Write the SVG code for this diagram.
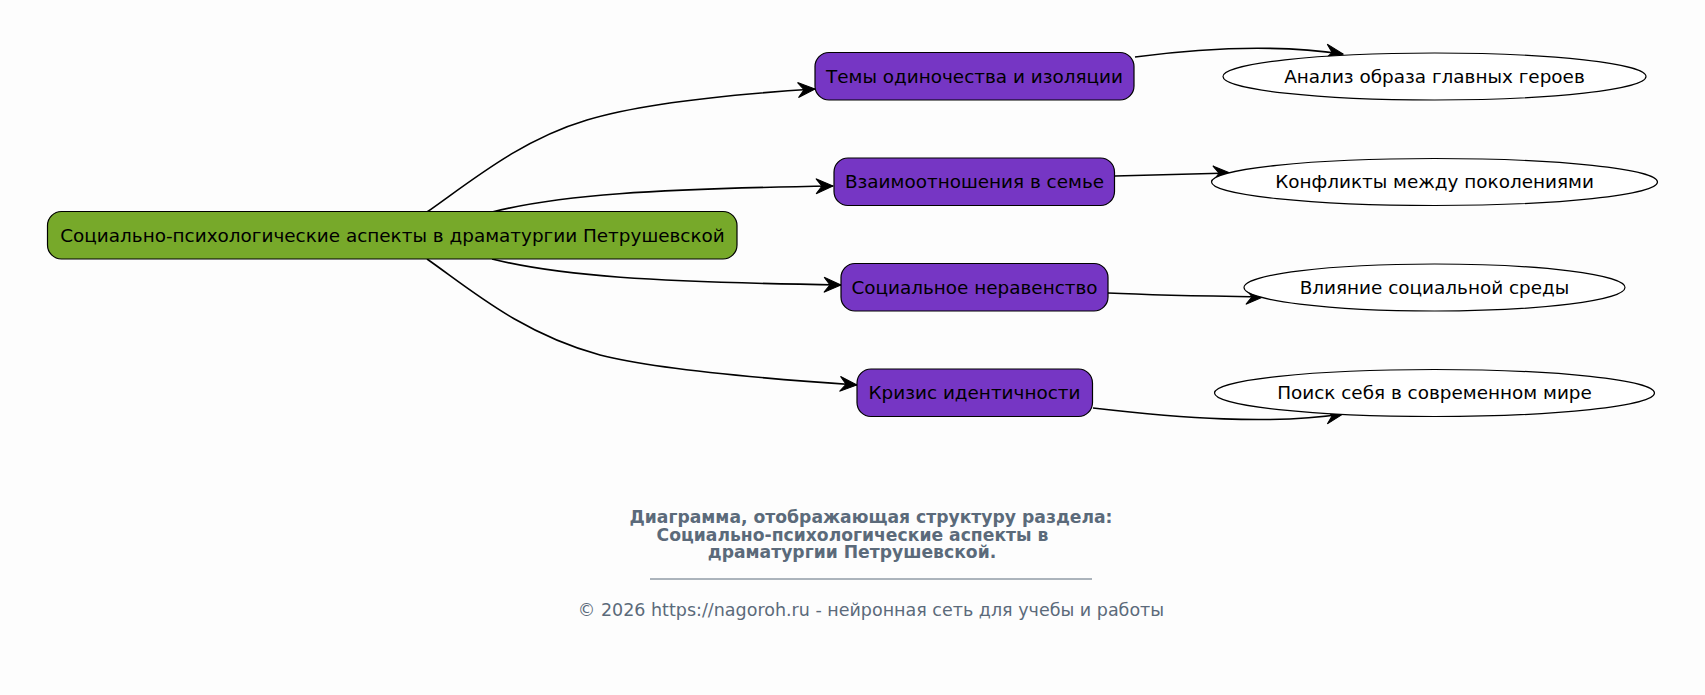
<svg xmlns="http://www.w3.org/2000/svg" width="1705" height="695" viewBox="0 0 1705 695">
<defs>
<style>
.node text{font-family:"DejaVu Sans",sans-serif;font-size:18.4px;fill:#000;text-anchor:middle}
.root{fill:#77a92a;stroke:#000;stroke-width:1.2}
.topic{fill:#7636c4;stroke:#000;stroke-width:1.2}
.leaf{fill:#ffffff;stroke:#000;stroke-width:1.2}
.edges path{fill:none;stroke:#000;stroke-width:1.6;marker-end:url(#vee)}
.cap{font-family:"DejaVu Sans",sans-serif;fill:#5b6a7a;text-anchor:middle}
</style>
<marker id="vee" markerUnits="userSpaceOnUse" orient="auto" refX="0" refY="0" markerWidth="40" markerHeight="40" viewBox="-20 -20 40 40" overflow="visible">
<path d="M0,0 L-17,-7.5 L-11,0 L-17,7.5 Z" fill="#000" stroke="#000" stroke-width="1"/>
</marker>
</defs>
<rect x="0" y="0" width="1705" height="695" fill="#fdfdfd"/>
<g id="connectors" class="edges">
<path d="M427,212 C470,182 520,140 587,120 C640,104 720,95 815,89"/>
<path d="M492,212 C560,195 650,189 833,186"/>
<path d="M492,259 C560,276 650,282 841,285"/>
<path d="M427,259 C470,289 520,333 600,355 C650,368 740,377 857,385"/>
<path d="M1135,57 C1180,51 1260,42 1343,54"/>
<path d="M1115,176 C1150,175 1190,174 1230,173"/>
<path d="M1108,293 C1150,295 1200,296 1263,297"/>
<path d="M1093,408 C1180,418 1270,425 1343,414"/>
</g>
<g id="root" class="node">
<rect class="root" x="47.5" y="211.5" width="689.5" height="47.5" rx="14"/>
<text x="392.5" y="241.5">Социально-психологические аспекты в драматургии Петрушевской</text>
</g>
<g id="topic1" class="node">
<rect class="topic" x="815" y="52.5" width="319" height="47.5" rx="14"/>
<text x="974.5" y="82.5">Темы одиночества и изоляции</text>
</g>
<g id="topic2" class="node">
<rect class="topic" x="834" y="158" width="280.5" height="47.5" rx="14"/>
<text x="974.5" y="188">Взаимоотношения в семье</text>
</g>
<g id="topic3" class="node">
<rect class="topic" x="841" y="263.5" width="267" height="47.5" rx="14"/>
<text x="974.5" y="293.5">Социальное неравенство</text>
</g>
<g id="topic4" class="node">
<rect class="topic" x="857" y="369" width="235.5" height="47.5" rx="14"/>
<text x="974.5" y="399">Кризис идентичности</text>
</g>
<g id="leaf1" class="node">
<ellipse class="leaf" cx="1434.5" cy="76.5" rx="211.5" ry="23.5"/>
<text x="1434.5" y="82.5">Анализ образа главных героев</text>
</g>
<g id="leaf2" class="node">
<ellipse class="leaf" cx="1434.5" cy="182" rx="223" ry="23.5"/>
<text x="1434.5" y="188">Конфликты между поколениями</text>
</g>
<g id="leaf3" class="node">
<ellipse class="leaf" cx="1434.5" cy="287.5" rx="190.5" ry="23.5"/>
<text x="1434.5" y="293.5">Влияние социальной среды</text>
</g>
<g id="leaf4" class="node">
<ellipse class="leaf" cx="1434.5" cy="393" rx="220" ry="23.5"/>
<text x="1434.5" y="399">Поиск себя в современном мире</text>
</g>
<g id="caption">
<text class="cap" x="871" y="522.5" font-size="17.2" font-weight="bold">Диаграмма, отображающая структуру раздела:</text>
<text class="cap" x="852.5" y="540.5" font-size="17.2" font-weight="bold">Социально-психологические аспекты в</text>
<text class="cap" x="852" y="558" font-size="17.2" font-weight="bold">драматургии Петрушевской.</text>
<line x1="650" y1="579" x2="1092" y2="579" stroke="#5b6a7a" stroke-width="1"/>
<text class="cap" x="871" y="616" font-size="17.5">© 2026 https://nagoroh.ru - нейронная сеть для учебы и работы</text>
</g>
</svg>
